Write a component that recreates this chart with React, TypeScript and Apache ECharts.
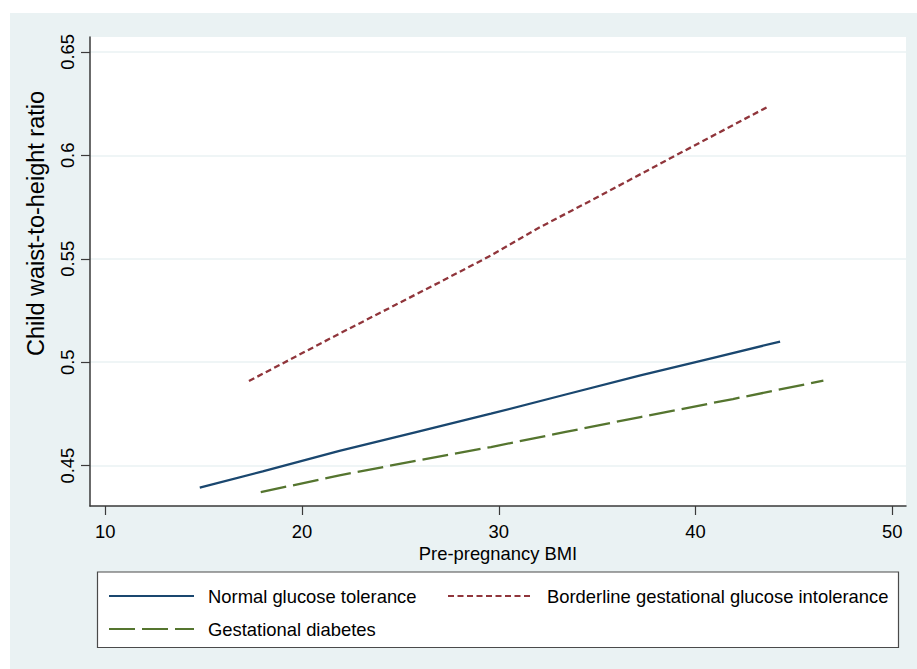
import React, { useEffect, useRef } from "react";
import * as echarts from "echarts";

const xTicks = [10, 20, 30, 40, 50];
const yTicks = [0.45, 0.5, 0.55, 0.6, 0.65];

const seriesNames = [
  "Normal glucose tolerance",
  "Borderline gestational glucose intolerance",
  "Gestational diabetes",
];

const normalX = [14.8, 18.0, 21.9, 25.8, 29.6, 33.4, 37.2, 40.8, 44.3];
const normalY = [0.4394, 0.4472, 0.4571, 0.4662, 0.4751, 0.4844, 0.4936, 0.5019, 0.51];

const borderlineX = [17.3, 21.9, 27.0, 29.6, 32.1, 34.7, 39.0, 43.7];
const borderlineY = [0.4909, 0.5138, 0.5387, 0.5516, 0.5653, 0.5782, 0.6, 0.6236];

const diabetesX = [17.9, 21.9, 25.7, 29.6, 33.4, 37.2, 41.9, 46.5];
const diabetesY = [0.4372, 0.4453, 0.4522, 0.459, 0.4663, 0.4735, 0.4822, 0.4911];

const pairs = (xs: number[], ys: number[]) => xs.map((x, i) => [x, ys[i]]);

const FONT = "Liberation Sans, Arial, Helvetica, sans-serif";
const FS = 18.4;

export default function App() {
  const ref = useRef<HTMLDivElement>(null);
  useEffect(() => {
    if (!ref.current) return;
    const chart = echarts.init(ref.current, null, { renderer: "svg" });
    const legendText = { fontSize: FS, color: "#000", fontFamily: FONT, padding: [0, 0, 0, 9] };
    const legendBase = {
      padding: 0,
      itemWidth: 85,
      itemHeight: 14,
      textStyle: legendText,
      selectedMode: false,
      itemStyle: { opacity: 0, borderWidth: 0 },
    };
    chart.setOption({
      animation: false,
      backgroundColor: "#ffffff",
      textStyle: { fontFamily: FONT },
      grid: {
        left: 90,
        top: 37,
        right: 11,
        bottom: 163,
        show: true,
        backgroundColor: "#ffffff",
        borderWidth: 0,
      },
      xAxis: {
        type: "value",
        min: 9.22,
        max: 50.7,
        name: "Pre-pregnancy BMI",
        nameLocation: "middle",
        nameGap: 35,
        nameTextStyle: { fontSize: FS, color: "#000", fontFamily: FONT },
        axisLine: { show: true, onZero: false, lineStyle: { color: "#3a3a3a", width: 1.5 } },
        axisTick: { show: true, length: 9, customValues: xTicks, lineStyle: { color: "#3a3a3a", width: 1.2 } },
        axisLabel: { customValues: xTicks, fontSize: FS, color: "#000", margin: 16, fontFamily: FONT },
        splitLine: { show: false },
      },
      yAxis: {
        type: "value",
        min: 0.4305,
        max: 0.6572,
        axisLine: { show: true, onZero: false, lineStyle: { color: "#3a3a3a", width: 1.5 } },
        axisTick: { show: true, length: 9, customValues: yTicks, lineStyle: { color: "#3a3a3a", width: 1.2 } },
        axisLabel: {
          customValues: yTicks,
          rotate: 90,
          fontSize: FS,
          color: "#000",
          margin: 14,
          fontFamily: FONT,
          formatter: (v: number) => String(v),
        },
        splitLine: { show: true, lineStyle: { color: "#eaf2f3", width: 1.5 } },
      },
      legend: [
        { ...legendBase, data: [seriesNames[0]], left: 108, top: 587 },
        { ...legendBase, data: [seriesNames[1]], left: 447, top: 587 },
        { ...legendBase, data: [seriesNames[2]], left: 108, top: 620 },
      ],
      graphic: [
        {
          type: "rect",
          z: -100,
          silent: true,
          shape: { x: 10, y: 13, width: 907, height: 656 },
          style: { fill: "#eaf2f3" },
        },
        {
          type: "rect",
          z: 1,
          silent: true,
          shape: { x: 97.5, y: 572, width: 801, height: 75.5 },
          style: { fill: "#ffffff", stroke: "#4a4a4a", lineWidth: 1.2 },
        },
        {
          type: "text",
          z: 5,
          x: 36,
          y: 223.5,
          rotation: Math.PI / 2,
          style: {
            text: "Child waist-to-height ratio",
            fontSize: 23.5,
            fontFamily: FONT,
            fill: "#000",
            align: "center",
            verticalAlign: "middle",
          },
        },
      ],
      series: [
        {
          name: seriesNames[0],
          type: "line",
          data: pairs(normalX, normalY),
          symbol: "none",
          showSymbol: false,
          lineStyle: { color: "#1a476f", width: 2.3, type: "solid" },
          itemStyle: { color: "#1a476f" },
        },
        {
          name: seriesNames[1],
          type: "line",
          data: pairs(borderlineX, borderlineY),
          symbol: "none",
          showSymbol: false,
          lineStyle: { color: "#90353b", width: 2.3, type: [6, 3.5] },
          itemStyle: { color: "#90353b" },
        },
        {
          name: seriesNames[2],
          type: "line",
          data: pairs(diabetesX, diabetesY),
          symbol: "none",
          showSymbol: false,
          lineStyle: { color: "#55752f", width: 2.3, type: [26, 7] },
          itemStyle: { color: "#55752f" },
        },
      ],
    });
    return () => chart.dispose();
  }, []);
  return (
    <div
      ref={ref}
      style={{ position: "absolute", left: 0, top: 0, width: 917, height: 669 }}
    />
  );
}
